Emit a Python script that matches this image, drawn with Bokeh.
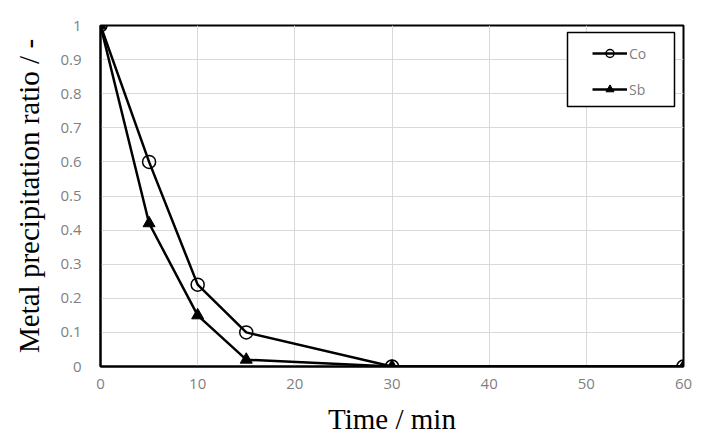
from bokeh.plotting import figure
from bokeh.models import Range1d, FixedTicker, Legend, LegendItem, BoxAnnotation
from bokeh.embed import file_html
from bokeh.resources import INLINE

time_min = [0, 5, 10, 15, 30, 60]
co = [1.0, 0.60, 0.24, 0.10, 0.0, 0.0]
sb = [1.0, 0.42, 0.15, 0.02, 0.0, 0.0]
x_ticks = [0, 10, 20, 30, 40, 50, 60]
y_ticks = [0, 0.1, 0.2, 0.3, 0.4, 0.5, 0.6, 0.7, 0.8, 0.9, 1.0]
y_tick_labels = ["0", "0.1", "0.2", "0.3", "0.4", "0.5", "0.6", "0.7", "0.8", "0.9", "1"]

p = figure(width=712, height=448, output_backend="svg", toolbar_location=None,
           x_range=Range1d(0, 60), y_range=Range1d(0, 1))
p.min_border_left = 100
p.min_border_right = 29
p.min_border_top = 25
p.min_border_bottom = 82
p.background_fill_color = "white"
p.border_fill_color = "white"
p.outline_line_color = "black"
p.outline_line_width = 2

p.xaxis.ticker = FixedTicker(ticks=x_ticks)
p.yaxis.ticker = FixedTicker(ticks=y_ticks)
p.yaxis.major_label_overrides = {t: l for t, l in zip(y_ticks, y_tick_labels)}

for ax in (p.xaxis, p.yaxis):
    ax.axis_line_color = "black"
    ax.axis_line_width = 2
    ax.major_tick_line_color = None
    ax.minor_tick_line_color = None
    ax.major_label_text_font = "Open Sans"
    ax.major_label_text_font_size = "15px"
    ax.major_label_text_color = "#7f7f7f"
    ax.axis_label_text_font = "Liberation Serif"
    ax.axis_label_text_font_style = "normal"
    ax.axis_label_text_color = "black"
    ax.axis_label_text_font_size = "29px"

p.xaxis.axis_label = "Time / min"
p.xaxis.major_label_standoff = 6
p.xaxis.axis_label_standoff = 11
p.yaxis.axis_label = "Metal precipitation ratio / -"
p.yaxis.major_label_standoff = 13
p.yaxis.axis_label_standoff = 12

p.xgrid.grid_line_color = "#d9d9d9"
p.ygrid.grid_line_color = "#d9d9d9"
p.xgrid.grid_line_width = 1
p.ygrid.grid_line_width = 1

l_co = p.line(time_min, co, line_color="black", line_width=2.5)
m_co = p.scatter(time_min, co, marker="circle", size=13, fill_alpha=0,
                 line_color="black", line_width=1.5)
l_sb = p.line(time_min, sb, line_color="black", line_width=2.5)
m_sb = p.scatter(time_min, sb, marker="triangle", size=12, fill_color="black",
                 line_color="black", line_width=1)

legend_frame = BoxAnnotation(left=467, right=574, bottom=260, top=334,
                             left_units="screen", right_units="screen",
                             top_units="screen", bottom_units="screen",
                             fill_color="white", fill_alpha=1,
                             line_color="black", line_alpha=1, line_width=1.5,
                             level="annotation")
p.add_layout(legend_frame)

legend = Legend(items=[LegendItem(label="Co", renderers=[l_co, m_co]),
                       LegendItem(label="Sb", renderers=[l_sb, m_sb])],
                location=(492, 267))
legend.border_line_color = None
legend.background_fill_alpha = 0
legend.label_text_font = "Open Sans"
legend.label_text_font_size = "14px"
legend.label_text_color = "#7f7f7f"
legend.glyph_width = 35
legend.glyph_height = 20
legend.label_height = 20
legend.label_width = 20
legend.label_standoff = 2
legend.padding = 12
legend.spacing = 16
legend.margin = 0
p.add_layout(legend)

open("out.html", "w").write(file_html(p, INLINE))
